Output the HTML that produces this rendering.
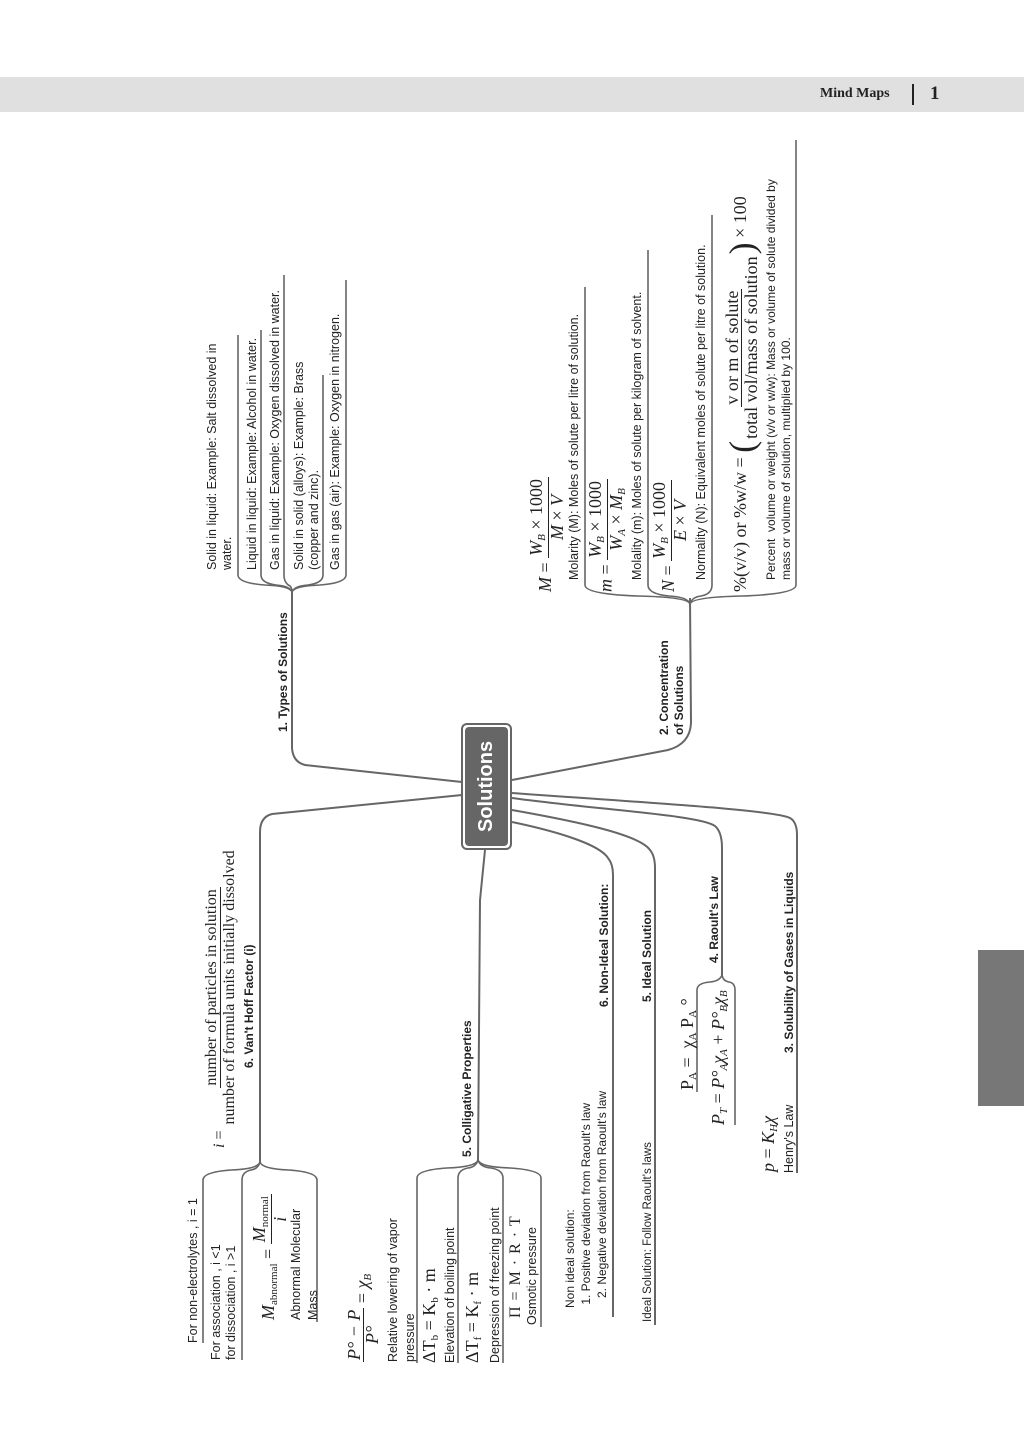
<!DOCTYPE html>
<html><head><meta charset="utf-8">
<style>
html,body{margin:0;padding:0;background:#fff;}
body{width:1024px;height:1440px;position:relative;overflow:hidden;font-family:"Liberation Sans",sans-serif;color:#222;}
.r{position:absolute;transform:rotate(-90deg);transform-origin:0 0;white-space:nowrap;font-size:12.5px;line-height:15px;}
.b{font-weight:bold;font-size:12px;}
.s{font-size:11.5px;}
.m{font-family:"Liberation Serif",serif;font-size:18px;letter-spacing:0;line-height:18px;}
.i{font-style:italic;}
.fr{display:inline-flex;flex-direction:column;align-items:center;vertical-align:middle;}
.fr>span{padding:0 2px;line-height:17px;}
.fr>span:first-child{border-bottom:1.3px solid #222;}
sub{font-size:11px;vertical-align:baseline;position:relative;top:0.3em;}
</style></head><body>
<div style="position:absolute;left:0;top:77px;width:1024px;height:35px;background:#e0e0e0;"></div>
<div style="position:absolute;left:820px;top:86px;font-family:'Liberation Serif',serif;font-weight:bold;font-size:14px;">Mind Maps</div>
<div style="position:absolute;left:912px;top:84px;width:2px;height:21px;background:#222;"></div>
<div style="position:absolute;left:930px;top:83px;font-family:'Liberation Serif',serif;font-weight:bold;font-size:19px;">1</div>
<div style="position:absolute;left:978px;top:950px;width:46px;height:156px;background:#777;"></div>

<svg width="1024" height="1440" style="position:absolute;left:0;top:0" fill="none" stroke="#666" stroke-width="2">
<path d="M462,782 L305,765 Q293,762 292,748 L292,592"/>
<path d="M462,795 L272,814 Q260,817 260,832 L260,1162"/>
<path d="M512,780 L668,750 Q690,744 691,723 L690,598"/>
<path d="M485,850 L480,900 L478,1162"/>
<path d="M512,822 C560,832 600,845 608,858 Q613,864 613,875 L613,1317"/>
<path d="M512,810 C580,822 640,835 650,850 Q655,856 655,868 L655,1325"/>
<path d="M512,798 C600,810 700,815 715,826 Q722,832 722,848 L722,975"/>
<path d="M512,793 C650,803 775,810 790,818 Q797,822 797,835 L797,1173"/>
<g stroke-width="1.6">
<path d="M238,335 L238,575 Q238,583 265,585 Q290,586 292,592"/>
<path d="M261,330 L261,575 Q261,583 276,585 Q290,586 292,592"/>
<path d="M284,275 L284,575 Q284,583 290,586 Q292,588 292,592"/>
<path d="M323,375 L323,575 Q323,583 308,585 Q294,586 292,592"/>
<path d="M346,280 L346,575 Q346,583 320,585 Q294,586 292,592"/>
<path d="M585,287 L585,585 Q585,594 637,596 Q688,597 690,604"/>
<path d="M648,250 L648,585 Q648,594 669,596 Q688,597 690,604"/>
<path d="M712,215 L712,585 Q712,594 701,596 Q692,597 690,604"/>
<path d="M796,140 L796,585 Q796,594 743,596 Q692,597 690,604"/>
<path d="M203,1343 L203,1180 Q203,1172 231,1170 Q258,1169 260,1162"/>
<path d="M242,1360 L242,1180 Q242,1172 251,1170 Q258,1169 260,1162"/>
<path d="M317,1322 L317,1180 Q317,1172 289,1170 Q262,1169 260,1162"/>
<path d="M417,1363 L417,1178 Q417,1170 447,1168 Q476,1167 478,1160"/>
<path d="M458,1363 L458,1178 Q458,1170 468,1168 Q476,1167 478,1160"/>
<path d="M503,1363 L503,1178 Q503,1170 491,1168 Q480,1167 478,1160"/>
<path d="M541,1327 L541,1178 Q541,1170 510,1168 Q480,1167 478,1160"/>
<path d="M697,1092 L697,990 Q697,983 710,982 Q720,981 722,975"/>
<path d="M735,1125 L735,990 Q735,983 729,982 Q723,981 722,975"/>
</g>
</svg>

<div style="position:absolute;left:461px;top:723px;width:51px;height:127px;background:#fff;border:2px solid #666;border-radius:6px;box-sizing:border-box;"></div>
<div style="position:absolute;left:465px;top:727px;width:43px;height:119px;background:#666;border-radius:4px;"></div>
<div class="r" style="left:473px;top:832px;font-size:20px;line-height:26px;color:#fff;font-weight:bold;">Solutions</div>

<!-- Types -->
<div class="r b" style="left:276px;top:732px;">1. Types of Solutions</div>
<div class="r" style="left:205px;top:570px;">Solid in liquid: Example: Salt dissolved in<br>water.</div>
<div class="r" style="left:245px;top:570px;">Liquid in liquid: Example: Alcohol in water.</div>
<div class="r" style="left:268px;top:570px;">Gas in liquid: Example: Oxygen dissolved in water.</div>
<div class="r" style="left:292px;top:570px;">Solid in solid (alloys): Example: Brass<br>(copper and zinc).</div>
<div class="r" style="left:328px;top:570px;">Gas in gas (air): Example: Oxygen in nitrogen.</div>

<!-- Concentration -->
<div class="r b" style="left:657px;top:735px;">2. Concentration<br>of Solutions</div>
<div class="r m" style="left:528px;top:592px;"><span class="i">M</span> = <span class="fr"><span><span class="i">W<sub>B</sub></span> × 1000</span><span><span class="i">M</span> × <span class="i">V</span></span></span></div>
<div class="r" style="left:567px;top:580px;">Molarity (M): Moles of solute per litre of solution.</div>
<div class="r m" style="left:587px;top:592px;"><span class="i">m</span> = <span class="fr"><span><span class="i">W<sub>B</sub></span> × 1000</span><span><span class="i">W<sub>A</sub></span> × <span class="i">M<sub>B</sub></span></span></span></div>
<div class="r" style="left:630px;top:580px;">Molality (m): Moles of solute per kilogram of solvent.</div>
<div class="r m" style="left:651px;top:592px;"><span class="i">N</span> = <span class="fr"><span><span class="i">W<sub>B</sub></span> × 1000</span><span><span class="i">E</span> × <span class="i">V</span></span></span></div>
<div class="r" style="left:694px;top:580px;">Normality (N): Equivalent moles of solute per litre of solution.</div>
<div class="r m" style="left:718px;top:592px;line-height:44px;">%(v/v) or %w/w = <span style="font-size:36px;vertical-align:middle;">(</span><span class="fr"><span style="line-height:18px">v or m of solute</span><span style="line-height:18px">total vol/mass of solution</span></span><span style="font-size:36px;vertical-align:middle;">)</span> × 100</div>
<div class="r" style="left:764px;top:580px;font-size:12px;">Percent&nbsp; volume or weight (v/v or w/w): Mass or volume of solute divided by<br>mass or volume of solution, multiplied by 100.</div>

<!-- Van't Hoff -->
<div class="r b" style="left:242px;top:1068px;">6. Van't Hoff Factor (i)</div>
<div class="r m" style="left:200px;top:1148px;line-height:40px;font-size:16px;"><span class="i">i</span> = <span class="fr"><span style="line-height:17px">number of particles in solution</span><span style="line-height:17px">number of formula units initially dissolved</span></span></div>
<div class="r" style="left:186px;top:1343px;">For non-electrolytes , i = 1</div>
<div class="r" style="left:209px;top:1360px;">For association , i &lt;1<br>for dissociation , i &gt;1</div>
<div class="r m" style="left:250px;top:1320px;line-height:36px;"><span class="i">M</span><sub>abnormal</sub> = <span class="fr"><span><span class="i">M</span><sub>normal</sub></span><span class="i">i</span></span></div>
<div class="r" style="left:288px;top:1320px;line-height:17px;">Abnormal Molecular<br>Mass</div>

<!-- Colligative -->
<div class="r b" style="left:460px;top:1157px;">5. Colligative Properties</div>
<div class="r m" style="left:345px;top:1362px;line-height:34px;"><span class="fr"><span class="i">P° − P</span><span class="i">P°</span></span> = <span class="i">χ<sub>B</sub></span></div>
<div class="r" style="left:385px;top:1362px;line-height:17px;">Relative lowering of vapor<br>pressure</div>
<div class="r m" style="left:420px;top:1363px;">ΔT<sub>b</sub> = K<sub>b</sub> · m</div>
<div class="r m" style="left:463px;top:1363px;">ΔT<sub>f</sub> = K<sub>f</sub> · m</div>
<div class="r" style="left:443px;top:1363px;">Elevation of boiling point</div>
<div class="r" style="left:488px;top:1363px;">Depression of freezing point</div>
<div class="r m" style="left:507px;top:1318px;font-size:16px;letter-spacing:1px;">Π = M · R · T</div>
<div class="r" style="left:525px;top:1325px;">Osmotic pressure</div>

<!-- Non-ideal / ideal -->
<div class="r b" style="left:597px;top:1007px;">6. Non-Ideal Solution:</div>
<div class="r" style="left:562px;top:1308px;font-size:12px;line-height:16px;">Non ideal solution:<br>&nbsp;1. Positive deviation from Raoult's law<br>&nbsp;&nbsp;&nbsp;2. Negative deviation from Raoult's law</div>
<div class="r b" style="left:640px;top:1002px;">5. Ideal Solution</div>
<div class="r s" style="left:641px;top:1322px;">Ideal Solution: Follow Raoult's laws</div>

<!-- Raoult -->
<div class="r b" style="left:707px;top:963px;">4. Raoult's Law</div>
<div class="r m" style="left:678px;top:1090px;">P<sub>A</sub> = &nbsp;χ<sub>A</sub> P<sub>A</sub> °</div>
<div class="r m" style="left:709px;top:1125px;"><span class="i">P<sub>T</sub></span> = <span class="i">P°<sub>A</sub>χ<sub>A</sub></span> + <span class="i">P°<sub>B</sub>χ<sub>B</sub></span></div>

<!-- Solubility -->
<div class="r b" style="left:782px;top:1053px;">3. Solubility of Gases in Liquids</div>
<div class="r m" style="left:759px;top:1172px;"><span class="i">p</span> = <span class="i">K<sub>H</sub>χ</span></div>
<div class="r" style="left:782px;top:1173px;">Henry's Law</div>
</body></html>
